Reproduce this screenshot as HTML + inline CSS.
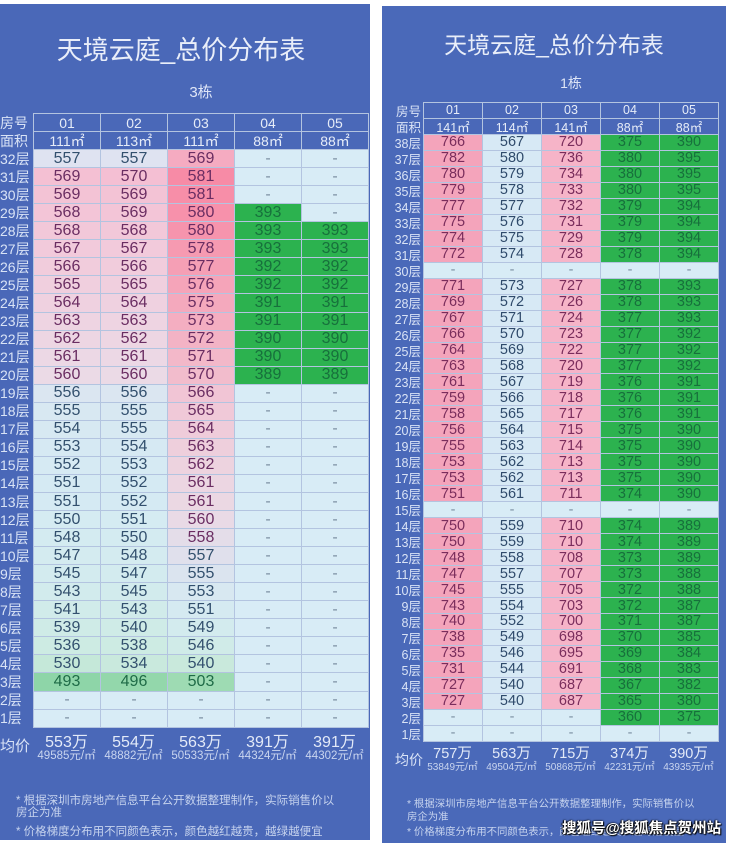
<!DOCTYPE html>
<html><head><meta charset="utf-8">
<style>
*{margin:0;padding:0;box-sizing:border-box}
html,body{width:740px;height:846px;background:#fff;overflow:hidden}
body{position:relative;font-family:"Liberation Sans","Noto Sans CJK SC",sans-serif}
.pan{position:absolute;background:#4a68b8}
.t{position:absolute;white-space:nowrap}
.grid{position:absolute;display:grid;gap:1px;padding:1px;background:#b3c4e0}
.grid>div{display:flex;align-items:center;justify-content:center;font-family:"Liberation Sans Narrow","Liberation Sans","Noto Sans CJK SC",sans-serif;white-space:nowrap}
#L{left:33px;top:113px;grid-template-columns:repeat(5,66px);grid-template-rows:repeat(34,17.06px);font-size:16px}
#R{left:423px;top:102px;grid-template-columns:repeat(5,58px);grid-template-rows:repeat(40,14.98px);font-size:14.5px}
.h{background:#4a68b8;color:#e6ecf8;font-family:"Liberation Sans","Noto Sans CJK SC",sans-serif!important}
#L .h{font-size:14px}
#R .h{font-size:12.5px}
.p{color:#6a2d62}
.b{color:#33506e}
.g{background:#2cb24f;color:#17703c}
.lg{color:#1f6b47}
.d{background:#d8ecf6;color:#7d90a3}
.r1{background:#f4a4bb;color:#7a2d5c}
.r2{background:#d7e9f5;color:#2f4a6b}
.r3{background:#f6b4c8;color:#7a2d5c}
.lab{position:absolute;display:grid;gap:1px;padding-top:1px;color:#d9e3f6}
.lab>div{display:flex;align-items:center;white-space:nowrap}
#LL{left:0;top:113px;width:33px;grid-template-rows:repeat(34,17.06px);font-size:14px}
#RL{left:384px;top:102px;width:37px;grid-template-rows:repeat(40,14.98px);font-size:12.5px}
#RL>div{justify-content:flex-end}
.avg{position:absolute;text-align:center;white-space:nowrap}
.big{color:#e3eaf8}
.sm{color:#c9d5ef}
.fn{position:absolute;white-space:nowrap;color:#c6d3ee}
</style></head><body>

<div class="pan" style="left:0;top:4px;width:370px;height:836px"></div>
<div class="pan" style="left:382px;top:6px;width:344px;height:837px;background:#4a69b9"></div>

<!-- LEFT PANEL -->
<div class="t" style="left:0;width:362px;text-align:center;top:35px;font-size:26px;line-height:30px;color:#e9eef9">天境云庭_总价分布表</div>
<div class="t" style="left:33px;width:336px;text-align:center;top:84px;font-size:15px;line-height:18px;color:#dfe6f7">3栋</div>

<div id="LL" class="lab">
<div>房号</div><div>面积</div>
<div>32层</div><div>31层</div><div>30层</div><div>29层</div><div>28层</div><div>27层</div><div>26层</div><div>25层</div><div>24层</div><div>23层</div><div>22层</div><div>21层</div><div>20层</div><div>19层</div><div>18层</div><div>17层</div><div>16层</div><div>15层</div><div>14层</div><div>13层</div><div>12层</div><div>11层</div><div>10层</div><div>9层</div><div>8层</div><div>7层</div><div>6层</div><div>5层</div><div>4层</div><div>3层</div><div>2层</div><div>1层</div>
</div>

<div id="L" class="grid">
<div class="h">01</div><div class="h">02</div><div class="h">03</div><div class="h">04</div><div class="h">05</div>
<div class="h">111㎡</div><div class="h">113㎡</div><div class="h">111㎡</div><div class="h">88㎡</div><div class="h">88㎡</div>
<!-- 32 -->
<div class="b" style="background:#dfe3f1">557</div><div class="b" style="background:#dfe3f1">557</div><div class="p" style="background:#f5abc1">569</div><div class="d">-</div><div class="d">-</div>
<!-- 31 -->
<div class="p" style="background:#f4c0d3">569</div><div class="p" style="background:#f4bfd3">570</div><div class="p" style="background:#f78ba6">581</div><div class="d">-</div><div class="d">-</div>
<!-- 30 -->
<div class="p" style="background:#f3c3d5">569</div><div class="p" style="background:#f3c3d5">569</div><div class="p" style="background:#f78ea8">581</div><div class="d">-</div><div class="d">-</div>
<!-- 29 -->
<div class="p" style="background:#f3c5d7">568</div><div class="p" style="background:#f3c5d7">569</div><div class="p" style="background:#f791ab">580</div><div class="g">393</div><div class="d">-</div>
<!-- 28 -->
<div class="p" style="background:#f2c8d9">568</div><div class="p" style="background:#f2c8d9">568</div><div class="p" style="background:#f694ad">580</div><div class="g">393</div><div class="g">393</div>
<!-- 27 -->
<div class="p" style="background:#f2cadb">567</div><div class="p" style="background:#f2cadb">567</div><div class="p" style="background:#f69ab1">578</div><div class="g">393</div><div class="g">393</div>
<!-- 26 -->
<div class="p" style="background:#f1ccdc">566</div><div class="p" style="background:#f1ccdc">566</div><div class="p" style="background:#f59fb5">577</div><div class="g">392</div><div class="g">392</div>
<!-- 25 -->
<div class="p" style="background:#f0cfde">565</div><div class="p" style="background:#f0cfde">565</div><div class="p" style="background:#f5a4b9">576</div><div class="g">392</div><div class="g">392</div>
<!-- 24 -->
<div class="p" style="background:#efd1e0">564</div><div class="p" style="background:#efd1e0">564</div><div class="p" style="background:#f4a9bd">575</div><div class="g">391</div><div class="g">391</div>
<!-- 23 -->
<div class="p" style="background:#eed4e2">563</div><div class="p" style="background:#eed4e2">563</div><div class="p" style="background:#f4aec1">573</div><div class="g">391</div><div class="g">391</div>
<!-- 22 -->
<div class="p" style="background:#edd6e3">562</div><div class="p" style="background:#edd6e3">562</div><div class="p" style="background:#f3b3c5">572</div><div class="g">390</div><div class="g">390</div>
<!-- 21 -->
<div class="p" style="background:#ecd8e5">561</div><div class="p" style="background:#ecd8e5">561</div><div class="p" style="background:#f3b8c9">571</div><div class="g">390</div><div class="g">390</div>
<!-- 20 -->
<div class="p" style="background:#ebdae6">560</div><div class="p" style="background:#ebdae6">560</div><div class="p" style="background:#f2bccc">570</div><div class="g">389</div><div class="g">389</div>
<!-- 19 -->
<div class="b" style="background:#dbe6f1">556</div><div class="b" style="background:#dbe6f1">556</div><div class="p" style="background:#f1c5d5">566</div><div class="d">-</div><div class="d">-</div>
<!-- 18 -->
<div class="b" style="background:#d8e8f2">555</div><div class="b" style="background:#d8e8f2">555</div><div class="p" style="background:#f0c9d8">565</div><div class="d">-</div><div class="d">-</div>
<!-- 17 -->
<div class="b" style="background:#d7e9f2">554</div><div class="b" style="background:#d7e9f2">555</div><div class="p" style="background:#efccda">564</div><div class="d">-</div><div class="d">-</div>
<!-- 16 -->
<div class="b" style="background:#d6e9f3">553</div><div class="b" style="background:#d6e9f3">554</div><div class="p" style="background:#eecfdc">563</div><div class="d">-</div><div class="d">-</div>
<!-- 15 -->
<div class="b" style="background:#d6eaf3">552</div><div class="b" style="background:#d6eaf3">553</div><div class="p" style="background:#edd3df">562</div><div class="d">-</div><div class="d">-</div>
<!-- 14 -->
<div class="b" style="background:#d5eaf3">551</div><div class="b" style="background:#d5eaf3">552</div><div class="p" style="background:#ecd6e2">561</div><div class="d">-</div><div class="d">-</div>
<!-- 13 -->
<div class="b" style="background:#d5eaf3">551</div><div class="b" style="background:#d5eaf3">552</div><div class="p" style="background:#ebd8e3">561</div><div class="d">-</div><div class="d">-</div>
<!-- 12 -->
<div class="b" style="background:#d5ebf2">550</div><div class="b" style="background:#d5ebf2">551</div><div class="p" style="background:#e9dae6">560</div><div class="d">-</div><div class="d">-</div>
<!-- 11 -->
<div class="b" style="background:#d4ebf1">548</div><div class="b" style="background:#d4ebf1">550</div><div class="p" style="background:#e4dde9">558</div><div class="d">-</div><div class="d">-</div>
<!-- 10 -->
<div class="b" style="background:#d4ebf0">547</div><div class="b" style="background:#d4ebf0">548</div><div class="b" style="background:#e0e0ec">557</div><div class="d">-</div><div class="d">-</div>
<!-- 9 -->
<div class="b" style="background:#d3ebef">545</div><div class="b" style="background:#d3ebef">547</div><div class="b" style="background:#dbe4ef">555</div><div class="d">-</div><div class="d">-</div>
<!-- 8 -->
<div class="b" style="background:#d2ebed">543</div><div class="b" style="background:#d2ebed">545</div><div class="b" style="background:#d8e8f1">553</div><div class="d">-</div><div class="d">-</div>
<!-- 7 -->
<div class="b" style="background:#d1ebea">541</div><div class="b" style="background:#d1ebea">543</div><div class="b" style="background:#d5eaf1">551</div><div class="d">-</div><div class="d">-</div>
<!-- 6 -->
<div class="b" style="background:#cfebe7">539</div><div class="b" style="background:#cfebe7">540</div><div class="b" style="background:#d3ebee">549</div><div class="d">-</div><div class="d">-</div>
<!-- 5 -->
<div class="b" style="background:#cdebe3">536</div><div class="b" style="background:#cdebe3">538</div><div class="b" style="background:#d0ebe8">546</div><div class="d">-</div><div class="d">-</div>
<!-- 4 -->
<div class="b" style="background:#c5e8d9">530</div><div class="b" style="background:#c9e9dd">534</div><div class="b" style="background:#c9e9dc">540</div><div class="d">-</div><div class="d">-</div>
<!-- 3 -->
<div class="lg" style="background:#8ed5a8">493</div><div class="lg" style="background:#93d7ab">496</div><div class="lg" style="background:#9edbb3">503</div><div class="d">-</div><div class="d">-</div>
<!-- 2 -->
<div class="d">-</div><div class="d">-</div><div class="d">-</div><div class="d">-</div><div class="d">-</div>
<!-- 1 -->
<div class="d">-</div><div class="d">-</div><div class="d">-</div><div class="d">-</div><div class="d">-</div>
</div>

<div class="t" style="left:0;top:738px;font-size:15px;line-height:18px;color:#d9e3f6">均价</div>
<div class="avg" style="left:33px;width:67px;top:734px"><div class="big" style="font-size:16px;line-height:17px">553万</div><div class="sm" style="font-size:11.5px;line-height:11px">49585元/㎡</div></div>
<div class="avg" style="left:100px;width:67px;top:734px"><div class="big" style="font-size:16px;line-height:17px">554万</div><div class="sm" style="font-size:11.5px;line-height:11px">48882元/㎡</div></div>
<div class="avg" style="left:167px;width:67px;top:734px"><div class="big" style="font-size:16px;line-height:17px">563万</div><div class="sm" style="font-size:11.5px;line-height:11px">50533元/㎡</div></div>
<div class="avg" style="left:234px;width:67px;top:734px"><div class="big" style="font-size:16px;line-height:17px">391万</div><div class="sm" style="font-size:11.5px;line-height:11px">44324元/㎡</div></div>
<div class="avg" style="left:301px;width:67px;top:734px"><div class="big" style="font-size:16px;line-height:17px">391万</div><div class="sm" style="font-size:11.5px;line-height:11px">44302元/㎡</div></div>

<div class="fn" style="left:16px;top:794px;font-size:11.5px;line-height:14px">* 根据深圳市房地产信息平台公开数据整理制作，实际销售价以</div>
<div class="fn" style="left:16px;top:806px;font-size:11.5px;line-height:14px">房企为准</div>
<div class="fn" style="left:16px;top:825px;font-size:11.5px;line-height:14px">* 价格梯度分布用不同颜色表示，颜色越红越贵，越绿越便宜</div>

<!-- RIGHT PANEL -->
<div class="t" style="left:382px;width:344px;text-align:center;top:31px;font-size:23px;line-height:28px;color:#e9eef9">天境云庭_总价分布表</div>
<div class="t" style="left:423px;width:296px;text-align:center;top:75px;font-size:14px;line-height:17px;color:#dfe6f7">1栋</div>

<div id="RL" class="lab">
<div>房号</div><div>面积</div>
<div>38层</div><div>37层</div><div>36层</div><div>35层</div><div>34层</div><div>33层</div><div>32层</div><div>31层</div><div>30层</div><div>29层</div><div>28层</div><div>27层</div><div>26层</div><div>25层</div><div>24层</div><div>23层</div><div>22层</div><div>21层</div><div>20层</div><div>19层</div><div>18层</div><div>17层</div><div>16层</div><div>15层</div><div>14层</div><div>13层</div><div>12层</div><div>11层</div><div>10层</div><div>9层</div><div>8层</div><div>7层</div><div>6层</div><div>5层</div><div>4层</div><div>3层</div><div>2层</div><div>1层</div>
</div>

<div id="R" class="grid">
<div class="h">01</div><div class="h">02</div><div class="h">03</div><div class="h">04</div><div class="h">05</div>
<div class="h">141㎡</div><div class="h">114㎡</div><div class="h">141㎡</div><div class="h">88㎡</div><div class="h">88㎡</div>
<div class="r1">766</div><div class="r2">567</div><div class="r3">720</div><div class="g">375</div><div class="g">390</div>
<div class="r1">782</div><div class="r2">580</div><div class="r3">736</div><div class="g">380</div><div class="g">395</div>
<div class="r1">780</div><div class="r2">579</div><div class="r3">734</div><div class="g">380</div><div class="g">395</div>
<div class="r1">779</div><div class="r2">578</div><div class="r3">733</div><div class="g">380</div><div class="g">395</div>
<div class="r1">777</div><div class="r2">577</div><div class="r3">732</div><div class="g">379</div><div class="g">394</div>
<div class="r1">775</div><div class="r2">576</div><div class="r3">731</div><div class="g">379</div><div class="g">394</div>
<div class="r1">774</div><div class="r2">575</div><div class="r3">729</div><div class="g">379</div><div class="g">394</div>
<div class="r1">772</div><div class="r2">574</div><div class="r3">728</div><div class="g">378</div><div class="g">394</div>
<div class="d">-</div><div class="d">-</div><div class="d">-</div><div class="d">-</div><div class="d">-</div>
<div class="r1">771</div><div class="r2">573</div><div class="r3">727</div><div class="g">378</div><div class="g">393</div>
<div class="r1">769</div><div class="r2">572</div><div class="r3">726</div><div class="g">378</div><div class="g">393</div>
<div class="r1">767</div><div class="r2">571</div><div class="r3">724</div><div class="g">377</div><div class="g">393</div>
<div class="r1">766</div><div class="r2">570</div><div class="r3">723</div><div class="g">377</div><div class="g">392</div>
<div class="r1">764</div><div class="r2">569</div><div class="r3">722</div><div class="g">377</div><div class="g">392</div>
<div class="r1">763</div><div class="r2">568</div><div class="r3">720</div><div class="g">377</div><div class="g">392</div>
<div class="r1">761</div><div class="r2">567</div><div class="r3">719</div><div class="g">376</div><div class="g">391</div>
<div class="r1">759</div><div class="r2">566</div><div class="r3">718</div><div class="g">376</div><div class="g">391</div>
<div class="r1">758</div><div class="r2">565</div><div class="r3">717</div><div class="g">376</div><div class="g">391</div>
<div class="r1">756</div><div class="r2">564</div><div class="r3">715</div><div class="g">375</div><div class="g">390</div>
<div class="r1">755</div><div class="r2">563</div><div class="r3">714</div><div class="g">375</div><div class="g">390</div>
<div class="r1">753</div><div class="r2">562</div><div class="r3">713</div><div class="g">375</div><div class="g">390</div>
<div class="r1">753</div><div class="r2">562</div><div class="r3">713</div><div class="g">375</div><div class="g">390</div>
<div class="r1">751</div><div class="r2">561</div><div class="r3">711</div><div class="g">374</div><div class="g">390</div>
<div class="d">-</div><div class="d">-</div><div class="d">-</div><div class="d">-</div><div class="d">-</div>
<div class="r1">750</div><div class="r2">559</div><div class="r3">710</div><div class="g">374</div><div class="g">389</div>
<div class="r1">750</div><div class="r2">559</div><div class="r3">710</div><div class="g">374</div><div class="g">389</div>
<div class="r1">748</div><div class="r2">558</div><div class="r3">708</div><div class="g">373</div><div class="g">389</div>
<div class="r1">747</div><div class="r2">557</div><div class="r3">707</div><div class="g">373</div><div class="g">388</div>
<div class="r1">745</div><div class="r2">555</div><div class="r3">705</div><div class="g">372</div><div class="g">388</div>
<div class="r1">743</div><div class="r2">554</div><div class="r3">703</div><div class="g">372</div><div class="g">387</div>
<div class="r1">740</div><div class="r2">552</div><div class="r3">700</div><div class="g">371</div><div class="g">387</div>
<div class="r1">738</div><div class="r2">549</div><div class="r3">698</div><div class="g">370</div><div class="g">385</div>
<div class="r1">735</div><div class="r2">546</div><div class="r3">695</div><div class="g">369</div><div class="g">384</div>
<div class="r1">731</div><div class="r2">544</div><div class="r3">691</div><div class="g">368</div><div class="g">383</div>
<div class="r1">727</div><div class="r2">540</div><div class="r3">687</div><div class="g">367</div><div class="g">382</div>
<div class="r1">727</div><div class="r2">540</div><div class="r3">687</div><div class="g">365</div><div class="g">380</div>
<div class="d">-</div><div class="d">-</div><div class="d">-</div><div class="g">360</div><div class="g">375</div>
<div class="d">-</div><div class="d">-</div><div class="d">-</div><div class="d">-</div><div class="d">-</div>
</div>

<div class="t" style="left:395px;top:752px;font-size:14px;line-height:17px;color:#d9e3f6">均价</div>
<div class="avg" style="left:423px;width:59px;top:747px"><div class="big" style="font-size:14.5px;line-height:15px">757万</div><div class="sm" style="font-size:10px;line-height:11px">53849元/㎡</div></div>
<div class="avg" style="left:482px;width:59px;top:747px"><div class="big" style="font-size:14.5px;line-height:15px">563万</div><div class="sm" style="font-size:10px;line-height:11px">49504元/㎡</div></div>
<div class="avg" style="left:541px;width:59px;top:747px"><div class="big" style="font-size:14.5px;line-height:15px">715万</div><div class="sm" style="font-size:10px;line-height:11px">50868元/㎡</div></div>
<div class="avg" style="left:600px;width:59px;top:747px"><div class="big" style="font-size:14.5px;line-height:15px">374万</div><div class="sm" style="font-size:10px;line-height:11px">42231元/㎡</div></div>
<div class="avg" style="left:659px;width:59px;top:747px"><div class="big" style="font-size:14.5px;line-height:15px">390万</div><div class="sm" style="font-size:10px;line-height:11px">43935元/㎡</div></div>

<div class="fn" style="left:407px;top:798px;font-size:10.4px;line-height:13px">* 根据深圳市房地产信息平台公开数据整理制作，实际销售价以</div>
<div class="fn" style="left:407px;top:811px;font-size:10.4px;line-height:13px">房企为准</div>
<div class="fn" style="left:407px;top:826px;font-size:10.4px;line-height:13px">* 价格梯度分布用不同颜色表示，颜色越红越贵，越绿越便宜</div>

<div class="t" style="left:562px;top:820px;font-size:14.5px;line-height:18px;color:#fff;font-weight:bold;text-shadow:1px 1px 1px #000,0 0 2px #000,-1px 0 1px #000">搜狐号@搜狐焦点贺州站</div>

</body></html>
